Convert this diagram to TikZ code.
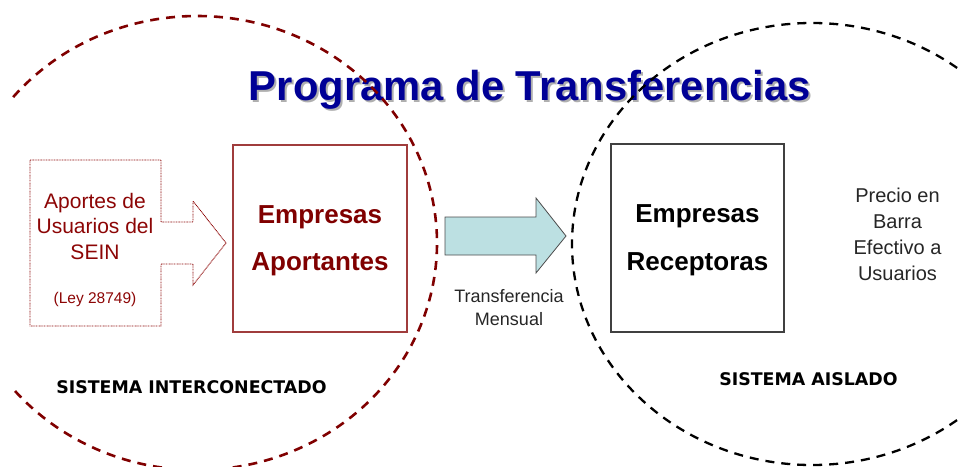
\documentclass[tikz,border=0pt]{standalone}
\usepackage{fontspec}
\setmainfont{Liberation Sans}
\newfontfamily\verd{DejaVu Sans}
\definecolor{titleblue}{RGB}{0,0,150}
\definecolor{shadowgray}{RGB}{175,175,175}
\definecolor{darkred}{RGB}{128,0,0}
\definecolor{textred}{RGB}{140,5,5}
\definecolor{boxred}{RGB}{160,60,60}
\definecolor{arrowfill}{RGB}{188,224,226}
\tikzset{
  redcircle/.style={draw=darkred, line width=2.6pt, dash pattern=on 9pt off 7pt},
  blackcircle/.style={draw=black, line width=2.3pt, dash pattern=on 9pt off 7pt},
  callout/.style={draw=textred, line width=0.9pt, dash pattern=on 0.9pt off 0.7pt},
  aportbox/.style={draw=boxred, line width=1.2pt, minimum width=174pt, minimum height=187pt, inner sep=0pt},
  recepbox/.style={draw=black!75, line width=1.2pt, minimum width=173pt, minimum height=188pt, inner sep=0pt},
  transfer/.style={draw=black!70, line width=0.8pt, fill=arrowfill},
  plain/.style={anchor=base, align=center, inner sep=0pt},
}
\begin{document}
\begin{tikzpicture}[x=1pt,y=-1pt]
\useasboundingbox (0,0) rectangle (958,466);
\clip (0,0) rectangle (958,466);
% title with shadow
\node[plain, text=shadowgray, font=\bfseries\fontsize{41.8}{42}\selectfont] (titleshadow) at (532,102) {Programa de Transferencias};
\node[plain, text=titleblue, font=\bfseries\fontsize{41.8}{42}\selectfont] (title) at (530,100) {Programa de Transferencias};
% system outlines
\draw[redcircle] (197,243) ++(140:240pt and 227pt) arc[start angle=140, end angle=-140, x radius=240pt, y radius=227pt];
\draw[blackcircle] (812,244) ellipse[x radius=240pt, y radius=221pt];
% callout
\draw[callout] (30,160) -- (161,160) -- (161,222) -- (193,222) -- (193,201) -- (226,243) -- (193,285) -- (193,264) -- (161,264) -- (161,326) -- (30,326) -- cycle;
\node[plain, text=textred, font=\fontsize{21}{25.5}\selectfont] (aportes) at (95,259) {Aportes de\\Usuarios del\\SEIN};
\node[plain, text=textred, font=\fontsize{15.5}{18}\selectfont] (ley) at (95,303) {(Ley 28749)};
% boxes
\node[aportbox] (aport) at (320,238.5) {};
\node[plain, text=darkred, font=\bfseries\fontsize{26}{47}\selectfont] (aporttext) at (aport.center |- 0,270) {Empresas\\Aportantes};
\node[recepbox] (recep) at (697.5,238) {};
\node[plain, text=black, font=\bfseries\fontsize{26}{48}\selectfont] (receptext) at (recep.center |- 0,270) {Empresas\\Receptoras};
% transfer arrow
\draw[transfer] (445,217) -- (536,217) -- (536,198) -- (566,236) -- (536,273) -- (536,255) -- (445,255) -- cycle;
\node[plain, text=black!85, font=\fontsize{18}{23}\selectfont] (transtext) at (509,325) {Transferencia\\Mensual};
% right text
\node[plain, text=black!85, font=\fontsize{20}{26}\selectfont] (precio) at (897.5,280) {Precio en\\Barra\\Efectivo a\\Usuarios};
% system labels
\node[plain, font=\verd\bfseries\fontsize{17.4}{17.4}\selectfont] (sin) at (191.5,393) {SISTEMA INTERCONECTADO};
\node[plain, font=\verd\bfseries\fontsize{17.4}{17.4}\selectfont] (ais) at (808.5,385) {SISTEMA AISLADO};
\end{tikzpicture}
\end{document}
